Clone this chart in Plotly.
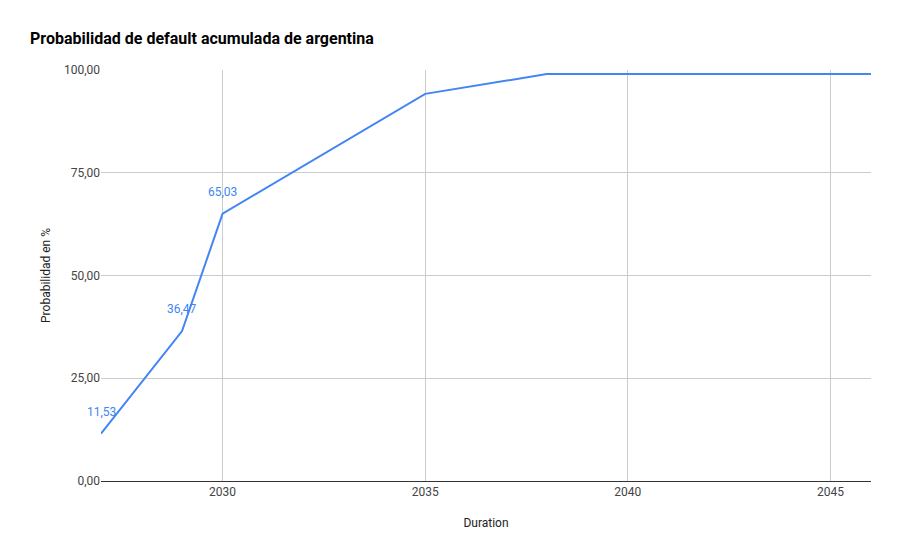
import plotly.graph_objects as go

years = [2027, 2029, 2030, 2035, 2038, 2046]
prob = [11.53, 36.47, 65.03, 94.2, 99.0, 99.0]
labels = ["11,53", "36,47", "65,03", "", "", ""]

fig = go.Figure(go.Scatter(
    x=years, y=prob, mode="lines",
    line=dict(color="#4285f4", width=2), hoverinfo="x+y"))

# data labels above the first points
for x, y, t in zip(years, prob, labels):
    if t:
        fig.add_annotation(x=x, y=y, text=t, showarrow=False, yshift=22,
                           font=dict(color="#4285f4", size=12))

# page has an 8px body margin, so the figure is sized to fit inside it
W, H = 885, 544
L, R, T, B = 93, 22, 62, 71
pw, ph = W - L - R, H - T - B

fig.update_layout(
    width=W, height=H,
    font=dict(family="Roboto", size=12, color="#444"),
    paper_bgcolor="white", plot_bgcolor="white",
    separators=",.",
    title=dict(text="<b>Probabilidad de default acumulada de argentina</b>",
               x=22 / W, xanchor="left", y=1 - 30 / H, yanchor="middle",
               font=dict(size=16, color="#000")),
    margin=dict(l=L, r=R, t=T, b=B),
    showlegend=False,
    xaxis=dict(range=[2027, 2046], tickvals=[2030, 2035, 2040, 2045],
               showgrid=True, gridcolor="#ccc", zeroline=False,
               showline=True, linecolor="#333", linewidth=1,
               title=dict(text="Duration", standoff=20, font=dict(size=12, color="#222"))),
    yaxis=dict(range=[0, 100], tickvals=[0, 25, 50, 75, 100], tickformat=".2f",
               showgrid=True, gridcolor="#ccc", zeroline=False, ticksuffix=" ",
               title=dict(text="Probabilidad en %", standoff=10, font=dict(size=12, color="#222"))),
)

fig.write_html("out.html")
